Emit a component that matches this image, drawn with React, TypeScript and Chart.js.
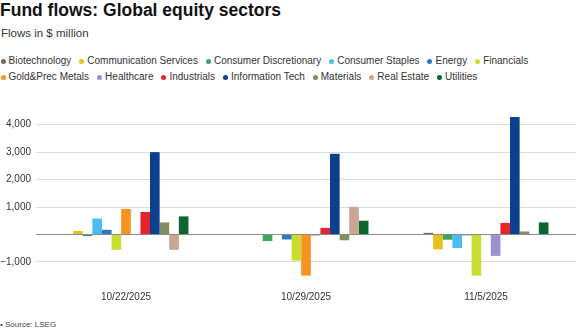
import React, { useEffect, useRef } from 'react';
import { Chart, registerables } from 'chart.js';

Chart.register(...registerables);

const FONT = "'Liberation Sans', Arial, Helvetica, sans-serif";

// ---- data ----
const categories = ['10/22/2025', '10/29/2025', '11/5/2025'];

const biotechnology = [20, 0, 60];
const communicationServices = [130, 10, -540];
const consumerDiscretionary = [-60, -240, -190];
const consumerStaples = [580, -10, -490];
const energy = [170, -180, -30];
const financials = [-560, -950, -1500];
const goldPrecMetals = [930, -1500, 0];
const healthcare = [0, -40, -780];
const industrials = [820, 240, 420];
const informationTech = [3000, 2940, 4280];
const materials = [440, -210, 110];
const realEstate = [-560, 1010, 0];
const utilities = [660, 500, 440];

const yTickValues = [-1000, 0, 1000, 2000, 3000, 4000];

const seriesNames = [
  'Biotechnology',
  'Communication Services',
  'Consumer Discretionary',
  'Consumer Staples',
  'Energy',
  'Financials',
  'Gold&Prec Metals',
  'Healthcare',
  'Industrials',
  'Information Tech',
  'Materials',
  'Real Estate',
  'Utilities',
];

const seriesValues = [
  biotechnology,
  communicationServices,
  consumerDiscretionary,
  consumerStaples,
  energy,
  financials,
  goldPrecMetals,
  healthcare,
  industrials,
  informationTech,
  materials,
  realEstate,
  utilities,
];

const seriesColors = [
  '#7a6958',
  '#e8c21a',
  '#3ea55e',
  '#48bdf2',
  '#2e78bb',
  '#c9dc32',
  '#f7941d',
  '#9d8fd2',
  '#e5242b',
  '#0c3f8e',
  '#838d5e',
  '#c9a592',
  '#0b6530',
];

function fmt(v: number): string {
  if (v === 0) return '';
  const s = Math.abs(v).toLocaleString('en-US');
  return v < 0 ? '\u2212' + s : s;
}

export default function App() {
  const ref = useRef<HTMLCanvasElement>(null);

  useEffect(() => {
    const canvas = ref.current;
    if (!canvas) return;
    const chart = new Chart(canvas, {
      type: 'bar',
      data: {
        labels: categories,
        datasets: seriesNames.map((name, i) => ({
          label: name,
          data: seriesValues[i],
          backgroundColor: seriesColors[i],
          borderWidth: 0,
          categoryPercentage: 0.694,
          barPercentage: 1,
        })),
      },
      options: {
        animation: false,
        responsive: false,
        maintainAspectRatio: false,
        layout: { padding: { top: 9.35, right: 0, bottom: 0, left: 0 } },
        plugins: {
          legend: { display: false },
          tooltip: { enabled: false },
          title: { display: false },
        },
        scales: {
          x: {
            grid: { display: false, drawTicks: false },
            border: { display: false },
            ticks: {
              color: '#333333',
              font: { family: FONT, size: 10 },
              padding: 3,
              maxRotation: 0,
              autoSkip: false,
            },
            afterFit: (s: any) => {
              s.height = 22;
            },
          },
          y: {
            min: -1950,
            max: 4500,
            afterBuildTicks: (s: any) => {
              s.ticks = yTickValues.map((v) => ({ value: v }));
            },
            grid: {
              color: (ctx: any) =>
                ctx.tick && ctx.tick.value === 0 ? '#8a8a8a' : '#dcdcdc',
              drawTicks: false,
              lineWidth: 1,
            },
            border: { display: false },
            ticks: {
              color: '#333333',
              font: { family: FONT, size: 10 },
              padding: 5,
              callback: (v: any) => fmt(Number(v)),
            },
            afterFit: (s: any) => {
              s.width = 36;
            },
          },
        },
      },
    });
    return () => chart.destroy();
  }, []);

  return (
    <div
      style={{
        position: 'fixed',
        left: 0,
        top: 0,
        width: 576,
        height: 332,
        background: '#ffffff',
        fontFamily: FONT,
        overflow: 'hidden',
      }}
    >
      <div
        style={{
          position: 'absolute',
          left: 0,
          top: 0,
          fontSize: 17.5,
          lineHeight: '20px',
          fontWeight: 'bold',
          color: '#111111',
          whiteSpace: 'nowrap',
        }}
      >
        Fund flows: Global equity sectors
      </div>
      <div
        style={{
          position: 'absolute',
          left: 1,
          top: 25.7,
          fontSize: 11.5,
          lineHeight: '14px',
          color: '#333333',
          whiteSpace: 'nowrap',
        }}
      >
        Flows in $ million
      </div>
      <div
        style={{
          position: 'absolute',
          left: 0.5,
          top: 52.8,
          width: 575,
          display: 'flex',
          flexWrap: 'wrap',
          columnGap: 8,
          rowGap: 0,
          fontSize: 10,
          lineHeight: '16px',
          color: '#333333',
        }}
      >
        {seriesNames.map((name, i) => (
          <div
            key={name}
            style={{ display: 'flex', alignItems: 'center', whiteSpace: 'nowrap' }}
          >
            <span
              style={{
                display: 'inline-block',
                width: 5,
                height: 5,
                borderRadius: 2.5,
                background: seriesColors[i],
                marginRight: 3,
                position: 'relative',
                top: 0.8,
              }}
            />
            <span>{name}</span>
          </div>
        ))}
      </div>
      <canvas
        ref={ref}
        width={576}
        height={210}
        style={{ position: 'absolute', left: 0, top: 100, width: 576, height: 210 }}
      />
      <div
        style={{
          position: 'absolute',
          left: 0,
          top: 319.7,
          fontSize: 8,
          lineHeight: '10px',
          color: '#444444',
          whiteSpace: 'nowrap',
        }}
      >
        • Source: LSEG
      </div>
    </div>
  );
}
